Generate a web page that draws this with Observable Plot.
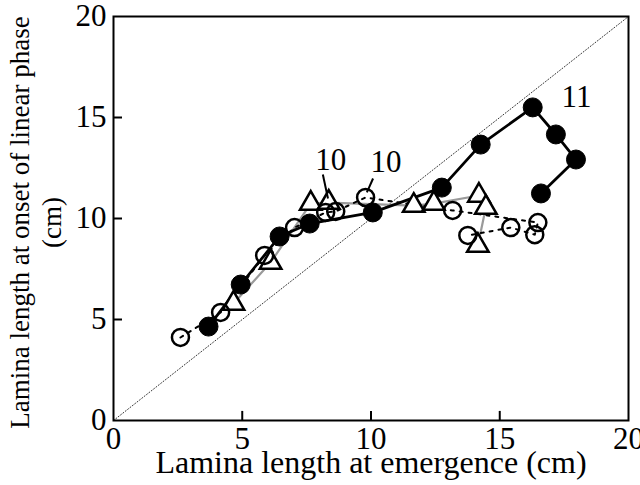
<!DOCTYPE html>
<html>
<head>
<meta charset="utf-8">
<script src="https://cdn.jsdelivr.net/npm/d3@7"></script>
<script src="https://cdn.jsdelivr.net/npm/@observablehq/plot@0.6"></script>
<style>
  html, body { margin: 0; padding: 0; background: white; }
</style>
</head>
<body>
<div id="chart"></div>
<script>
// Series: filled circles (solid black line)
const filledX = [3.69, 4.94, 6.45, 7.62, 10.07, 12.75, 14.26, 16.28, 17.18, 17.96, 16.6];
const filledY = [4.65, 6.73, 9.11, 9.75, 10.30, 11.53, 13.66, 15.50, 14.16, 12.92, 11.24];
// Series: open circles (dashed black line)
const openX = [2.60, 4.16, 5.87, 7.03, 8.24, 8.63, 9.79, 13.17, 16.48, 16.36, 15.43, 13.76];
const openY = [4.11, 5.35, 8.17, 9.55, 10.30, 10.35, 11.04, 10.40, 9.80, 9.20, 9.55, 9.16];
// Series: open triangles (grey line)
const triX = [4.66, 6.10, 7.66, 8.36, 11.66, 12.44, 14.19, 14.46, 14.15];
const triY = [5.79, 7.82, 10.74, 10.79, 10.64, 10.74, 11.14, 10.54, 8.66];

// Axis ticks
const xTicks = [0, 5, 10, 15, 20];
const yTicks = [0, 5, 10, 15, 20];
const innerTicks = [5, 10, 15];

// 1:1 line
const identity = [0, 20];

// Annotations (leaf numbers)
const noteText = ["10", "10", "11"];
const noteX = [8.44, 10.58, 17.98];
const noteY = [12.87, 12.77, 15.99];
const leaderX1 = [8.13, 10.08];
const leaderY1 = [12.18, 11.98];
const leaderX2 = [8.33, 9.84];
const leaderY2 = [10.99, 11.29];

const xLabel = "Lamina length at emergence (cm)";
const yLabel1 = "Lamina length at onset of linear phase";
const yLabel2 = "(cm)";

const filled = filledX.map((x, i) => ({x, y: filledY[i]}));
const open = openX.map((x, i) => ({x, y: openY[i]}));
const tri = triX.map((x, i) => ({x, y: triY[i]}));
const notes = noteText.map((t, i) => ({t, x: noteX[i], y: noteY[i]}));
const leaders = leaderX1.map((x, i) => ({x1: x, y1: leaderY1[i], x2: leaderX2[i], y2: leaderY2[i]}));
const diag = identity.map(v => ({x: v, y: v}));

const font = "Liberation Serif, Times New Roman, serif";

const chart = Plot.plot({
  width: 640,
  height: 485,
  marginLeft: 113,
  marginRight: 12,
  marginTop: 16,
  marginBottom: 65,
  x: {domain: [0, 20]},
  y: {domain: [0, 20]},
  style: {fontFamily: font, fontSize: "31px", background: "white", color: "black"},
  marks: [
    Plot.line(diag, {x: "x", y: "y", stroke: "#333", strokeWidth: 1, strokeDasharray: "1,2"}),
    Plot.ruleX(innerTicks, {x: d => d, y1: 0, y2: 0.45, stroke: "black", strokeWidth: 2}),
    Plot.ruleY(innerTicks, {y: d => d, x1: 0, x2: 0.35, stroke: "black", strokeWidth: 2}),
    Plot.axisX(xTicks, {tickSize: 0, tickPadding: 6, fontSize: 31, label: null}),
    Plot.axisY(yTicks, {tickSize: 0, tickPadding: 7, fontSize: 31, label: null}),
    Plot.frame({stroke: "black", strokeWidth: 2}),
    // triangles series
    Plot.line(tri, {x: "x", y: "y", stroke: "#9a9a9a", strokeWidth: 2.2}),
    // open circles series
    Plot.line(open, {x: "x", y: "y", stroke: "black", strokeWidth: 2, strokeDasharray: "3,6"}),
    // filled series
    Plot.line(filled, {x: "x", y: "y", stroke: "black", strokeWidth: 2.8}),
    Plot.dot(tri, {x: "x", y: "y", symbol: "triangle", r: 8, fill: "white", stroke: "black", strokeWidth: 2.5}),
    Plot.dot(open, {x: "x", y: "y", r: 8.5, fill: "none", stroke: "black", strokeWidth: 2.5}),
    Plot.dot(filled, {x: "x", y: "y", r: 9.5, fill: "black", stroke: "black", strokeWidth: 1}),
    // annotations
    Plot.link(leaders, {x1: "x1", y1: "y1", x2: "x2", y2: "y2", stroke: "black", strokeWidth: 2}),
    Plot.text(notes, {x: "x", y: "y", text: "t", fontSize: 31, fill: "black"}),
    // axis titles
    Plot.text([xLabel], {text: d => d, frameAnchor: "bottom", dy: 52, fontSize: 32, fill: "black", textAnchor: "middle"}),
    Plot.text([yLabel1], {text: d => d, frameAnchor: "left", dx: -93, dy: 4, rotate: -90, fontSize: 27, fill: "black", textAnchor: "middle"}),
    Plot.text([yLabel2], {text: d => d, frameAnchor: "left", dx: -61, dy: 4, rotate: -90, fontSize: 27, fill: "black", textAnchor: "middle"})
  ]
});
document.getElementById("chart").appendChild(chart);
</script>
</body>
</html>
